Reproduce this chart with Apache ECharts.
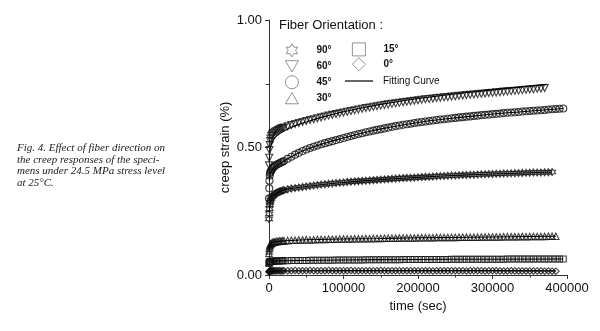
<!DOCTYPE html>
<html><head><meta charset="utf-8">
<script src="https://cdn.jsdelivr.net/npm/echarts@6/dist/echarts.min.js"></script>
<style>html,body{margin:0;padding:0;background:#fff}#c{width:600px;height:331px}</style>
</head><body><div id="c"></div>
<script>
// time in kiloseconds (converted to seconds when building data)
const timeKs = [0,0.3,0.6,1,1.5,2,3,4,5,6.5,8,10,12,14,16,18,20,
25,30,35,40,45,50,55,60,65,70,75,80,85,90,95,100,105,110,115,120,125,130,135,140,145,150,155,160,165,170,175,180,185,190,195,200,
205,210,215,220,225,230,235,240,245,250,255,260,265,270,275,280,285,290,295,300,305,310,315,320,325,330,335,340,345,350,355,360,365,370,375,380,385,390,395];

const seriesNames = ['90\u00b0','60\u00b0','45\u00b0','30\u00b0','15\u00b0','0\u00b0'];
const fitName = 'Fitting Curve';

const strain60 = [0.43,0.46,0.49,0.51,0.525,0.535,0.545,0.55,0.555,0.558,0.562,0.565,0.568,0.571,0.574,0.576,0.578,
0.583,0.588,0.592,0.596,0.600,0.604,0.608,0.611,0.615,0.618,0.621,0.625,0.628,0.631,0.634,0.637,0.640,0.643,0.646,0.649,0.652,0.655,0.657,0.660,0.662,0.665,0.667,0.669,0.671,0.673,0.675,0.677,0.679,0.681,0.683,0.685,
0.687,0.689,0.690,0.692,0.694,0.695,0.697,0.698,0.700,0.701,0.703,0.704,0.706,0.707,0.708,0.710,0.711,0.712,0.714,0.715,0.716,0.717,0.719,0.720,0.721,0.722,0.723,0.725,0.726,0.727,0.728,0.730,0.731,0.733];

const strain45 = [0.30,0.34,0.37,0.39,0.40,0.405,0.41,0.415,0.42,0.424,0.428,0.432,0.435,0.438,0.441,0.444,0.447,
0.456,0.464,0.472,0.479,0.486,0.492,0.498,0.503,0.508,0.513,0.517,0.521,0.525,0.529,0.533,0.537,0.541,0.545,0.549,0.553,0.556,0.560,0.563,0.566,0.569,0.572,0.575,0.578,0.581,0.584,0.586,0.589,0.591,0.593,0.596,0.598,
0.600,0.602,0.604,0.606,0.608,0.610,0.611,0.613,0.615,0.616,0.618,0.619,0.621,0.622,0.624,0.625,0.627,0.628,0.629,0.631,0.632,0.633,0.635,0.636,0.637,0.638,0.639,0.641,0.642,0.643,0.644,0.645,0.646,0.647,0.649,0.650,0.651,0.652,0.653];

const strain90 = [0.22,0.24,0.26,0.275,0.285,0.293,0.30,0.306,0.31,0.314,0.318,0.321,0.324,0.327,0.329,0.331,0.333,
0.336,0.339,0.341,0.343,0.345,0.347,0.349,0.351,0.353,0.355,0.356,0.358,0.359,0.361,0.362,0.363,0.365,0.366,0.367,0.368,0.369,0.370,0.371,0.372,0.373,0.374,0.375,0.376,0.377,0.378,0.379,0.380,0.381,0.381,0.382,0.383,
0.384,0.385,0.385,0.386,0.387,0.388,0.388,0.389,0.390,0.390,0.391,0.392,0.392,0.393,0.393,0.394,0.395,0.395,0.396,0.396,0.397,0.397,0.398,0.398,0.399,0.399,0.400,0.400,0.401,0.401,0.402,0.402,0.402,0.403,0.403,0.404];

const strain30 = [0.085,0.095,0.105,0.112,0.118,0.121,0.124,0.126,0.128,0.129,0.130,0.131,0.132,0.133,0.133,0.134,0.134,
0.135,0.136,0.136,0.137,0.137,0.138,0.137,0.138,0.139,0.139,0.139,0.140,0.140,0.140,0.141,0.141,0.141,0.141,0.142,0.142,0.142,0.143,0.142,0.143,0.143,0.143,0.144,0.144,0.144,0.144,0.145,0.145,0.145,0.145,0.145,0.146,
0.146,0.146,0.146,0.146,0.147,0.147,0.147,0.147,0.147,0.147,0.148,0.148,0.148,0.148,0.148,0.148,0.149,0.149,0.149,0.149,0.149,0.149,0.150,0.150,0.150,0.150,0.150,0.151,0.150,0.151,0.151,0.151,0.151,0.151,0.152,0.152,0.152];

const strain15 = [0.045,0.048,0.050,0.051,0.052,0.053,0.053,0.054,0.054,0.054,0.055,0.055,0.055,0.055,0.056,0.056,0.056,
0.056,0.057,0.057,0.057,0.057,0.057,0.058,0.058,0.058,0.058,0.058,0.058,0.058,0.059,0.059,0.059,0.059,0.059,0.059,0.059,0.059,0.060,0.060,0.060,0.060,0.060,0.060,0.060,0.060,0.060,0.060,0.061,0.061,0.061,0.061,0.061,
0.061,0.061,0.061,0.061,0.061,0.061,0.061,0.061,0.062,0.062,0.062,0.062,0.062,0.062,0.062,0.062,0.062,0.062,0.062,0.062,0.062,0.062,0.062,0.063,0.063,0.063,0.063,0.063,0.063,0.063,0.063,0.063,0.063,0.063,0.063,0.063,0.063,0.063,0.063];

const strain0 = [0.012,0.014,0.015,0.016,0.016,0.016,0.017,0.016,0.017,0.017,0.016,0.017,0.017,0.017,0.016,0.017,0.017,
0.017,0.017,0.018,0.017,0.017,0.017,0.018,0.017,0.017,0.017,0.017,0.018,0.017,0.017,0.017,0.017,0.017,0.018,0.017,0.017,0.017,0.017,0.017,0.017,0.017,0.018,0.017,0.017,0.017,0.017,0.017,0.017,0.017,0.017,0.017,0.017,
0.017,0.017,0.017,0.016,0.017,0.017,0.017,0.017,0.017,0.017,0.017,0.017,0.016,0.017,0.017,0.017,0.017,0.016,0.017,0.017,0.017,0.016,0.016,0.016,0.017,0.016,0.016,0.016,0.016,0.016,0.016,0.016,0.016,0.015,0.016,0.015,0.015];

// fitting curves: [kiloseconds, strain]
const fit60 = [[0.5,0.45],[2,0.50],[5,0.525],[10,0.545],[20,0.565],[35,0.585],[50,0.60],[75,0.622],[100,0.64],[130,0.658],[160,0.674],[200,0.692],[240,0.707],[280,0.72],[320,0.732],[350,0.741],[373,0.748]];
const fit45 = [[0.5,0.37],[2,0.40],[5,0.415],[10,0.428],[20,0.447],[35,0.472],[50,0.492],[75,0.517],[100,0.537],[130,0.56],[160,0.578],[200,0.598],[240,0.613],[280,0.625],[320,0.636],[360,0.645],[395,0.653]];
const fit90 = [[0.5,0.25],[2,0.29],[5,0.31],[10,0.321],[20,0.333],[35,0.341],[50,0.347],[75,0.356],[100,0.363],[130,0.37],[160,0.376],[200,0.383],[240,0.389],[280,0.394],[320,0.398],[360,0.402],[380,0.404]];
const fit30 = [[0.5,0.10],[2,0.121],[5,0.128],[10,0.131],[20,0.134],[50,0.138],[100,0.141],[150,0.143],[200,0.146],[250,0.147],[300,0.149],[350,0.151],[385,0.152]];
const fit15 = [[0.5,0.048],[5,0.054],[20,0.056],[50,0.057],[100,0.059],[200,0.061],[300,0.062],[395,0.063]];
const fit0 = [[0.5,0.014],[10,0.016],[100,0.017],[200,0.017],[300,0.017],[385,0.016]];

const starPath = 'path://M10 0 L12.89 5 L18.66 5 L15.77 10 L18.66 15 L12.89 15 L10 20 L7.11 15 L1.34 15 L4.23 10 L1.34 5 L7.11 5 Z';
const downTri = 'path://M0 0 L20 0 L10 17.3 Z';
const upTri = 'path://M10 0 L20 17.3 L0 17.3 Z';

function pts(vals){ return vals.map((v,i)=>[timeKs[i]*1000, v]); }
function fitPts(arr){ return arr.map(p=>[p[0]*1000, p[1]]); }

const ink = '#111';
function scat(name, vals, symbol, size){
  return {name, type:'scatter', data:pts(vals), symbol, symbolSize:size, z:2,
    itemStyle:{color:'rgba(255,255,255,0)', borderColor:ink, borderWidth:1.1}, silent:true};
}
function fitLine(arr){
  return {name:fitName, type:'line', data:fitPts(arr), symbol:'none', showSymbol:false, smooth:true, z:3,
    lineStyle:{color:'#000', width:1.1}, itemStyle:{color:'#000'}, silent:true};
}

const chart = echarts.init(document.getElementById('c'), null, {renderer:'canvas'});
const font = 'Liberation Sans, Arial, sans-serif';
chart.setOption({
  animation:false,
  backgroundColor:'#fff',
  grid:{left:269, right:33, top:20, bottom:56},
  xAxis:{type:'value', min:0, max:400000, interval:100000,
    name:'time (sec)', nameLocation:'middle', nameGap:24,
    nameTextStyle:{fontFamily:font, fontSize:13, color:'#111'},
    axisLine:{lineStyle:{color:'#333', width:1}},
    axisTick:{show:true, length:4, lineStyle:{color:'#333'}},
    minorTick:{show:true, splitNumber:2, length:2.5, lineStyle:{color:'#333'}},
    axisLabel:{fontFamily:font, fontSize:13, color:'#111', margin:7, formatter:v=>String(v)},
    splitLine:{show:false}},
  yAxis:{type:'value', min:0, max:1, interval:0.5,
    name:'creep strain (%)', nameLocation:'middle', nameGap:37, nameRotate:90,
    nameTextStyle:{fontFamily:font, fontSize:13, color:'#111'},
    axisLine:{show:true, lineStyle:{color:'#333', width:1}},
    axisTick:{show:true, length:4, lineStyle:{color:'#333'}},
    minorTick:{show:true, splitNumber:2, length:3, lineStyle:{color:'#333'}},
    axisLabel:{fontFamily:font, fontSize:13, color:'#111', margin:7, formatter:v=>v.toFixed(2)},
    splitLine:{show:false}},
  legend:[
    {data:[seriesNames[0],seriesNames[1],seriesNames[2],seriesNames[3]], orient:'vertical', left:285, top:43.5, padding:0,
     itemWidth:13, itemHeight:13, itemGap:3, textStyle:{fontFamily:font, fontSize:10, fontWeight:'bold', color:'#111', padding:[0,0,0,13]},
     itemStyle:{color:'rgba(255,255,255,0)', borderColor:'#555', borderWidth:0.8}, selectedMode:false},
    {data:[seriesNames[4],seriesNames[5]], orient:'vertical', left:352, top:42.5, padding:0,
     itemWidth:13, itemHeight:13, itemGap:1, textStyle:{fontFamily:font, fontSize:10, fontWeight:'bold', color:'#111', padding:[0,0,0,13]},
     itemStyle:{color:'rgba(255,255,255,0)', borderColor:'#555', borderWidth:0.8}, selectedMode:false},
    {data:[{name:fitName, icon:'rect'}], left:345, top:76, padding:0, itemWidth:28, itemHeight:1.2,
     textStyle:{fontFamily:font, fontSize:10, color:'#111', padding:[0,0,0,5]},
     itemStyle:{color:'#000', borderWidth:0}, lineStyle:{width:0}, selectedMode:false}
  ],
  graphic:[
    {type:'text', left:279, top:19, style:{text:'Fiber Orientation :', font:'13px '+font, fill:'#111'}},
    {type:'text', left:17, top:142, style:{text:'Fig. 4. Effect of fiber direction on\nthe creep responses of the speci-\nmens under 24.5 MPa stress level\nat 25\u00b0C.',
      font:'italic 11px "Liberation Serif", "DejaVu Serif", serif', lineHeight:11.8, fill:'#1a1a1a'}}
  ],
  series:[
    scat(seriesNames[0], strain90, starPath, 7),
    scat(seriesNames[1], strain60, downTri, 7),
    scat(seriesNames[2], strain45, 'circle', 7),
    scat(seriesNames[3], strain30, upTri, 6.5),
    scat(seriesNames[4], strain15, 'rect', 6),
    scat(seriesNames[5], strain0, 'diamond', 6.5),
    fitLine(fit90), fitLine(fit60), fitLine(fit45), fitLine(fit30), fitLine(fit15), fitLine(fit0)
  ]
});
</script></body></html>
